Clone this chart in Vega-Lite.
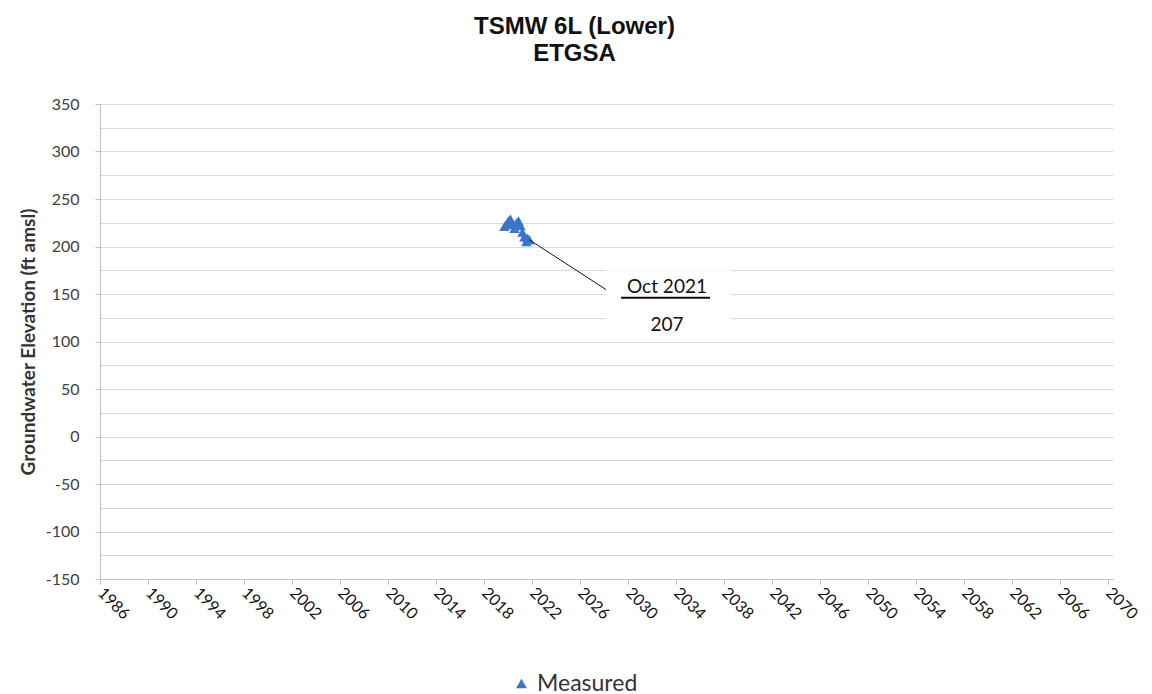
{
  "$schema": "https://vega.github.io/schema/vega-lite/v6.json",
  "autosize": {"type": "none"},
  "padding": {"left": 100, "top": 104, "right": 39, "bottom": 115},
  "width": 1013,
  "height": 475,
  "background": "white",
  "title": {
    "text": ["TSMW 6L (Lower)", "ETGSA"],
    "font": "Liberation Sans",
    "fontSize": 24,
    "fontWeight": "bold",
    "color": "#111111",
    "lineHeight": 27,
    "anchor": "middle",
    "dx": -32,
    "offset": 30
  },
  "config": {
    "view": {"stroke": null},
    "font": "Lato"
  },
  "datasets": {
    "measured": [
      {"date": "2019-09-15", "value": 221},
      {"date": "2019-11-15", "value": 224},
      {"date": "2020-01-15", "value": 227},
      {"date": "2020-03-15", "value": 229},
      {"date": "2020-05-15", "value": 223},
      {"date": "2020-07-15", "value": 219},
      {"date": "2020-09-15", "value": 225},
      {"date": "2020-11-15", "value": 227},
      {"date": "2021-01-15", "value": 222},
      {"date": "2021-03-15", "value": 215},
      {"date": "2021-05-15", "value": 210},
      {"date": "2021-07-15", "value": 205},
      {"date": "2021-08-15", "value": 209},
      {"date": "2021-10-15", "value": 207}
    ],
    "leader": [
      {"date": "2021-10-15", "value": 207, "date2": "2028-04-01", "value2": 154}
    ],
    "box": [
      {"date": "2028-03-01", "value": 175, "date2": "2038-08-01", "value2": 101}
    ],
    "labels": [
      {"date": "2033-04-01", "value": 157, "label": "Oct 2021", "weight": "bold"},
      {"date": "2033-04-01", "value": 117, "label": "207", "weight": "normal"}
    ],
    "underline": [
      {"date": "2029-06-01", "value": 146, "date2": "2036-11-01"}
    ]
  },
  "encoding": {
    "x": {
      "field": "date",
      "type": "temporal",
      "title": null,
      "scale": {"domain": ["1986-01-01", "2070-06-01"]},
      "axis": {
        "values": [
          {"year": 1986}, {"year": 1990}, {"year": 1994}, {"year": 1998},
          {"year": 2002}, {"year": 2006}, {"year": 2010}, {"year": 2014},
          {"year": 2018}, {"year": 2022}, {"year": 2026}, {"year": 2030},
          {"year": 2034}, {"year": 2038}, {"year": 2042}, {"year": 2046},
          {"year": 2050}, {"year": 2054}, {"year": 2058}, {"year": 2062},
          {"year": 2066}, {"year": 2070}
        ],
        "format": "%Y",
        "grid": false,
        "labelAngle": 45,
        "labelAlign": "left",
        "labelBaseline": "middle",
        "labelFontSize": 16,
        "labelColor": "#111111",
        "labelPadding": 6,
        "labelOverlap": false,
        "labelBound": false,
        "labelFlush": false,
        "domainColor": "#bfbfbf",
        "tickColor": "#bfbfbf",
        "tickSize": 5
      }
    },
    "y": {
      "field": "value",
      "type": "quantitative",
      "title": "Groundwater Elevation (ft amsl)",
      "scale": {"domain": [-150, 350], "nice": false, "zero": false},
      "axis": {
        "values": [-150, -125, -100, -75, -50, -25, 0, 25, 50, 75, 100, 125, 150, 175, 200, 225, 250, 275, 300, 325, 350],
        "labelExpr": "datum.value % 50 === 0 ? toString(datum.value) : ''",
        "labelOverlap": false,
        "tickColor": {"condition": {"test": "datum.value % 50 === 0", "value": "#bfbfbf"}, "value": "transparent"},
        "grid": true,
        "gridColor": "#d9d9d9",
        "labelFontSize": 16,
        "labelColor": "#404040",
        "labelPadding": 16,
        "tickSize": 5,
        "domainColor": "#bfbfbf",
        "titleFontSize": 19,
        "titleFontWeight": "bold",
        "titleColor": "#333333",
        "titlePadding": 7
      }
    }
  },
  "layer": [
    {
      "data": {"name": "measured"},
      "mark": {"type": "point", "filled": true, "size": 110, "opacity": 1},
      "encoding": {
        "color": {
          "datum": "Measured",
          "scale": {"range": ["#3a76c8"]},
          "legend": {
            "title": null,
            "orient": "none",
            "legendX": 410,
            "legendY": 568,
            "labelFontSize": 23,
            "labelColor": "#333333",
            "symbolSize": 120,
            "labelFont": "Lato"
          }
        },
        "shape": {
          "datum": "Measured",
          "scale": {"range": ["triangle-up"]}
        }
      }
    },
    {
      "data": {"name": "leader"},
      "mark": {"type": "rule", "color": "#111111", "strokeWidth": 1},
      "encoding": {
        "x2": {"field": "date2"},
        "y2": {"field": "value2"}
      }
    },
    {
      "data": {"name": "box"},
      "mark": {"type": "rect", "fill": "white"},
      "encoding": {
        "x2": {"field": "date2"},
        "y2": {"field": "value2"}
      }
    },
    {
      "data": {"name": "labels"},
      "mark": {"type": "text", "fontSize": 19, "color": "#111111", "font": "Lato"},
      "encoding": {
        "text": {"field": "label"},
        "fontWeight": {"field": "weight", "type": "nominal", "scale": null}
      }
    },
    {
      "data": {"name": "underline"},
      "mark": {"type": "rule", "color": "#111111", "strokeWidth": 2},
      "encoding": {
        "x2": {"field": "date2"}
      }
    }
  ]
}
